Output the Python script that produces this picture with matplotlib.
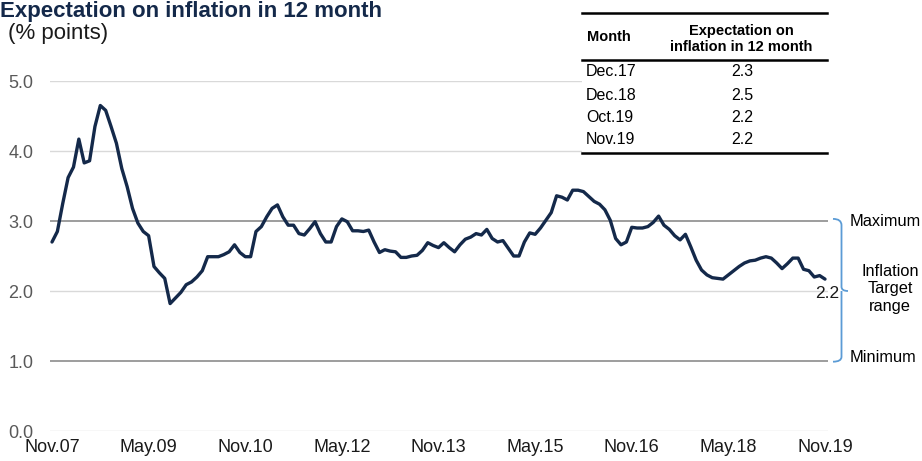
import matplotlib
matplotlib.use("Agg")
import matplotlib.pyplot as plt
from matplotlib.path import Path
from matplotlib.patches import PathPatch, Rectangle
from matplotlib.lines import Line2D
import matplotlib.transforms as mtransforms

plt.rcParams['font.family'] = ['Liberation Sans', 'DejaVu Sans']

# ---------------- data ----------------
expectation = [
    2.70, 2.85, 3.25, 3.62, 3.77, 4.17, 3.83, 3.86, 4.35, 4.65,
    4.58, 4.35, 4.11, 3.75, 3.49, 3.18, 2.97, 2.85, 2.79, 2.35,
    2.26, 2.18, 1.82, 1.90, 1.98, 2.09, 2.13, 2.20, 2.29, 2.49,
    2.49, 2.49, 2.52, 2.56, 2.66, 2.55, 2.49, 2.49, 2.85, 2.92,
    3.06, 3.18, 3.23, 3.06, 2.94, 2.94, 2.82, 2.80, 2.89, 2.99,
    2.82, 2.70, 2.70, 2.92, 3.03, 2.99, 2.86, 2.86, 2.85, 2.87,
    2.70, 2.55, 2.59, 2.57, 2.56, 2.48, 2.48, 2.50, 2.51, 2.58,
    2.69, 2.65, 2.62, 2.69, 2.62, 2.56, 2.66, 2.74, 2.77, 2.82,
    2.80, 2.88, 2.75, 2.70, 2.72, 2.61, 2.50, 2.50, 2.70, 2.83,
    2.81, 2.90, 3.01, 3.12, 3.36, 3.34, 3.30, 3.44, 3.44, 3.42,
    3.35, 3.28, 3.24, 3.16, 3.01, 2.75, 2.66, 2.70, 2.91, 2.90,
    2.90, 2.92, 2.98, 3.07, 2.94, 2.88, 2.79, 2.73, 2.81, 2.63,
    2.44, 2.30, 2.23, 2.19, 2.18, 2.17, 2.23, 2.29, 2.35, 2.40,
    2.43, 2.44, 2.47, 2.49, 2.47, 2.40, 2.32, 2.39, 2.47, 2.47,
    2.31, 2.29, 2.20, 2.22, 2.17,
]
month_index = list(range(len(expectation)))  # Nov.07 ... Nov.19, monthly

xtick_positions = [0, 18, 36, 54, 72, 90, 108, 126, 144]
xtick_labels = ["Nov.07", "May.09", "Nov.10", "May.12", "Nov.13",
                "May.15", "Nov.16", "May.18", "Nov.19"]
ytick_values = [0.0, 1.0, 2.0, 3.0, 4.0, 5.0]
ytick_labels = ["0.0", "1.0", "2.0", "3.0", "4.0", "5.0"]

target_max = 3.0
target_min = 1.0
target_mid = 2.0
last_value_label = "2.2"

table_months = ["Dec.17", "Dec.18", "Oct.19", "Nov.19"]
table_values = ["2.3", "2.5", "2.2", "2.2"]

# ---------------- figure ----------------
W, H = 922, 461
fig = plt.figure(figsize=(W / 100, H / 100), dpi=100)

def fx(px):
    return px / W

def fy(py):
    return 1 - py / H

ax = fig.add_axes([fx(50), fy(431), (828 - 50) / W, (431 - 81) / H])
px_per_month = 5.37
ax.set_xlim(-2 / px_per_month, 144 + 3 / px_per_month)
ax.set_ylim(0, 5)

for s in ax.spines.values():
    s.set_visible(False)

# gridlines
for yv in ytick_values:
    if yv in (target_max, target_min):
        ax.axhline(yv, color="#8c8c8c", lw=1.2, zorder=1)
    else:
        ax.axhline(yv, color="#d9d9d9", lw=1.0, zorder=1)

ax.plot(month_index, expectation, color="#14294a", lw=2.4, zorder=3,
        solid_joinstyle="round", solid_capstyle="round")

ax.set_yticks(ytick_values)
ax.set_yticklabels(ytick_labels, fontsize=13, color="#595959")
ax.set_xticks(xtick_positions)
ax.set_xticklabels(xtick_labels, fontsize=13, color="#1a1a1a")
ax.tick_params(axis="both", length=0)
ax.tick_params(axis="y", pad=12)
ax.tick_params(axis="x", pad=5.5)

# last value label
bt = mtransforms.blended_transform_factory(fig.transFigure, ax.transData)
ax.text(fx(839), expectation[-1] - 0.2, last_value_label, transform=bt,
        ha="right", va="center", fontsize=12.5, color="#1a1a1a", zorder=4)

# title
fig.text(fx(0), fy(17), "Expectation on inflation in 12 month", fontsize=16,
         fontweight="bold", color="#14294a", ha="left", va="baseline")
fig.text(fx(8), fy(39), "(% points)", fontsize=16, color="#1a1a1a",
         ha="left", va="baseline")

# table
tbl_left, tbl_right = 582, 828
fig.patches.append(Rectangle((fx(tbl_left), fy(153)), fx(tbl_right) - fx(tbl_left),
                             fy(13) - fy(153), transform=fig.transFigure,
                             facecolor="white", edgecolor="none", zorder=2))
for py, lw in [(13, 1.8), (60, 1.8), (153, 1.8)]:
    fig.lines.append(Line2D([fx(tbl_left), fx(tbl_right - 1)], [fy(py), fy(py)],
                            transform=fig.transFigure, color="black", lw=lw, zorder=3))
fig.text(fx(587), fy(37), "Month", fontsize=10.5, fontweight="bold",
         ha="left", va="center", zorder=4)
fig.text(fx(741), fy(39), "Expectation on\ninflation in 12 month", fontsize=10.5,
         fontweight="bold", ha="center", va="center", linespacing=1.2, zorder=4)
row_y = [72, 95, 117, 140]
for ry, m, v in zip(row_y, table_months, table_values):
    fig.text(fx(586), fy(ry), m, fontsize=11.5, ha="left", va="center", zorder=4)
    fig.text(fx(742), fy(ry), v, fontsize=11.5, ha="center", va="center", zorder=4)

# bracket for inflation target range
xl, xv, xm = fx(833), fx(841.5), fx(848)
dy = 0.06
verts = [
    (xl, target_max + 0.03),
    (xv, target_max + 0.03), (xv, target_max - dy),
    (xv, target_mid + dy),
    (xv, target_mid), (xm, target_mid),
    (xv, target_mid), (xv, target_mid - dy),
    (xv, target_min + dy),
    (xv, target_min - 0.01), (xl, target_min - 0.01),
]
codes = [Path.MOVETO,
         Path.CURVE3, Path.CURVE3,
         Path.LINETO,
         Path.CURVE3, Path.CURVE3,
         Path.MOVETO, Path.LINETO,
         Path.LINETO,
         Path.CURVE3, Path.CURVE3]
brace = PathPatch(Path(verts, codes), transform=bt, facecolor="none",
                  edgecolor="#5b9bd5", lw=1.3, clip_on=False)
fig.patches.append(brace)

fig.text(fx(850), fy(221), "Maximum", fontsize=11.8, ha="left", va="center")
fig.text(fx(850), fy(358), "Minimum", fontsize=11.8, ha="left", va="center")
fig.text(fx(890), fy(289), "Inflation\nTarget\nrange", fontsize=11.8,
         ha="center", va="center", linespacing=1.2)

fig.savefig("out.png", dpi=100)
